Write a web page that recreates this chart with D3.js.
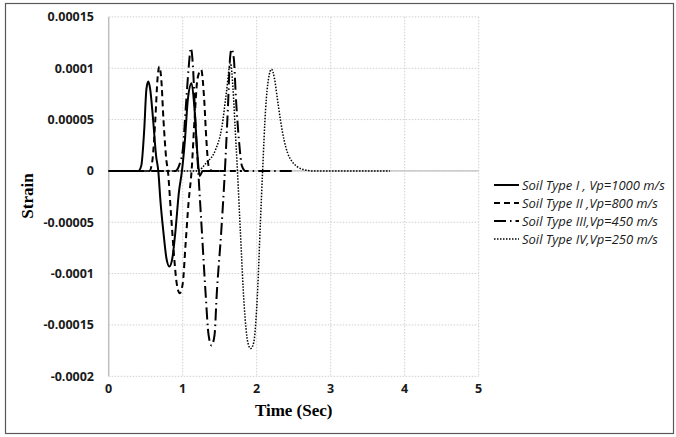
<!DOCTYPE html>
<html>
<head>
<meta charset="utf-8">
<script src="https://cdn.jsdelivr.net/npm/d3@7"></script>
<style>
  body { margin: 0; background: #fff; }
  svg { display: block; }
</style>
</head>
<body>
<svg id="chart" width="676" height="437"></svg>
<script>
// values: [time (s), strain]
const soil1 = [[0,0],[0.40,0],[0.44,0.000005],[0.48,0.00004],[0.51,0.00008],[0.535,0.000087],[0.56,0.00008],
  [0.60,0.00005],[0.64,0.000015],[0.67,0],[0.70,-0.00003],[0.74,-0.00006],[0.78,-0.000085],[0.82,-0.000093],
  [0.86,-0.000085],[0.90,-0.00006],[0.95,-0.00002],[0.99,0],[1.03,0.00003],[1.07,0.00007],[1.12,0.0000855],
  [1.16,0.00006],[1.20,0.000015],[1.23,-0.000005],[1.27,0],[1.5,0]];
const soil2 = [[0,0],[0.55,0],[0.59,0.00001],[0.63,0.00005],[0.66,0.00009],[0.684,0.0001016],[0.71,0.00009],
  [0.74,0.00005],[0.78,0.00001],[0.80,0],[0.84,-0.00004],[0.88,-0.00008],[0.92,-0.00011],[0.96,-0.000119],
  [1.00,-0.00011],[1.04,-0.00007],[1.08,-0.00003],[1.12,0],[1.16,0.00005],[1.20,0.00009],[1.25,0.0000984],
  [1.29,0.00007],[1.32,0.00003],[1.35,0.000005],[1.40,0],[1.8,0]];
const soil3 = [[0,0],[0.90,0],[0.95,0.000005],[1.00,0.00002],[1.04,0.00006],[1.08,0.0001],[1.11,0.0001196],
  [1.14,0.0001],[1.17,0.00005],[1.21,0],[1.26,-0.00006],[1.31,-0.00012],[1.35,-0.00016],[1.39,-0.00017],
  [1.43,-0.00016],[1.46,-0.00012],[1.52,-0.00006],[1.57,0],[1.61,0.00006],[1.64,0.00011],[1.66,0.0001186],
  [1.69,0.00011],[1.72,0.00007],[1.76,0.00003],[1.80,0.000005],[1.85,0],[2.5,0]];
const soil4 = [[0,0],[1.20,0],[1.32,0.000008],[1.44,0.00002],[1.53,0.000043],[1.59,0.000076],[1.645,0.000105],
  [1.68,0.00008],[1.71,0.00004],[1.74,0],[1.78,-0.00006],[1.83,-0.00013],[1.88,-0.000167],[1.92,-0.000173],
  [1.96,-0.000167],[2.01,-0.00012],[2.05,-0.00005],[2.08,0],[2.12,0.00006],[2.16,0.00009],[2.20,0.000099],
  [2.24,0.00009],[2.28,0.00007],[2.32,0.00005],[2.37,0.00003],[2.42,0.000017],[2.48,0.000009],[2.55,0.000004],
  [2.65,0.000001],[2.75,0],[3.8,0]];

const seriesNames = ["Soil Type I , Vp=1000 m/s", "Soil Type II ,Vp=800 m/s",
  "Soil Type III,Vp=450 m/s", "Soil Type IV,Vp=250 m/s"];
const xTicks = [0, 1, 2, 3, 4, 5];
const yTicks = [0.00015, 0.0001, 0.00005, 0, -0.00005, -0.0001, -0.00015, -0.0002];
const yTickLabels = ["0.00015", "0.0001", "0.00005", "0", "-0.00005", "-0.0001", "-0.00015", "-0.0002"];

const series = [
  {name: seriesNames[0], data: soil1, dash: null, width: 2},
  {name: seriesNames[1], data: soil2, dash: "6,4", width: 2},
  {name: seriesNames[2], data: soil3, dash: "12,4,1.5,4", width: 2},
  {name: seriesNames[3], data: soil4, dash: "1.5,1.5", width: 1.5}
];

const svg = d3.select("#chart");

// outer frame
svg.append("rect")
  .attr("x", 5.5).attr("y", 3.5).attr("width", 668).attr("height", 430)
  .attr("fill", "none").attr("stroke", "#595959").attr("stroke-width", 1.2);

const x = d3.scaleLinear().domain([0, 5]).range([108.7, 478.7]);
const y = d3.scaleLinear().domain([-0.0002, 0.00015]).range([376.3, 16.9]);

// gridlines
const grid = svg.append("g");
grid.selectAll(".gy").data(yTicks).enter().append("line")
  .attr("x1", x(0)).attr("x2", x(5))
  .attr("y1", d => y(d)).attr("y2", d => y(d))
  .attr("stroke", "#d0d0d0").attr("stroke-dasharray", "1.5,1.5");
grid.selectAll(".gx").data(xTicks.slice(1)).enter().append("line")
  .attr("x1", d => x(d)).attr("x2", d => x(d))
  .attr("y1", y(0.00015)).attr("y2", y(-0.0002))
  .attr("stroke", "#d0d0d0").attr("stroke-dasharray", "1.5,1.5");

// axis lines
svg.append("line").attr("x1", x(0)).attr("x2", x(0))
  .attr("y1", y(0.00015)).attr("y2", y(-0.0002))
  .attr("stroke", "#bfbfbf").attr("stroke-width", 1.5);
svg.append("line").attr("x1", x(0)).attr("x2", x(5))
  .attr("y1", y(0)).attr("y2", y(0))
  .attr("stroke", "#bfbfbf").attr("stroke-width", 1.2);

// tick labels
svg.append("g").selectAll("text").data(yTicks).enter().append("text")
  .attr("x", 94).attr("y", d => y(d) + 4.5)
  .attr("text-anchor", "end")
  .style("font-family", "'Open Sans', sans-serif").style("font-weight", "bold").style("font-size", "12.5px")
  .attr("fill", "#1a1a1a")
  .text((d, i) => yTickLabels[i]);
svg.append("g").selectAll("text").data(xTicks).enter().append("text")
  .attr("x", d => x(d)).attr("y", 393)
  .attr("text-anchor", "middle")
  .style("font-family", "'Open Sans', sans-serif").style("font-weight", "bold").style("font-size", "12.5px")
  .attr("fill", "#1a1a1a")
  .text(d => d);

// axis titles
svg.append("text")
  .attr("transform", "translate(33,196) rotate(-90)")
  .attr("text-anchor", "middle")
  .style("font-family", "'Liberation Serif', serif").style("font-weight", "bold").style("font-size", "17px")
  .text("Strain");
svg.append("text")
  .attr("x", (x(0) + x(5)) / 2).attr("y", 416)
  .attr("text-anchor", "middle")
  .style("font-family", "'Liberation Serif', serif").style("font-weight", "bold").style("font-size", "17px")
  .text("Time (Sec)");

// curves
const line = d3.line()
  .x(d => x(d[0]))
  .y(d => y(d[1]))
  .curve(d3.curveMonotoneX);

svg.append("g").selectAll("path").data(series).enter().append("path")
  .attr("d", d => line(d.data))
  .attr("fill", "none")
  .attr("stroke", "#000")
  .attr("stroke-width", d => d.width)
  .attr("stroke-dasharray", d => d.dash);

// legend
const legend = svg.append("g").selectAll("g").data(series).enter().append("g")
  .attr("transform", (d, i) => "translate(494," + [185, 203, 221, 239][i] + ")");
legend.append("line")
  .attr("x1", 0).attr("x2", 25).attr("y1", 0).attr("y2", 0)
  .attr("stroke", "#000")
  .attr("stroke-width", d => d.width)
  .attr("stroke-dasharray", d => d.dash);
legend.append("text")
  .attr("x", 28).attr("y", 4.5)
  .style("font-family", "'Open Sans', sans-serif").style("font-style", "italic").style("font-size", "13px")
  .attr("fill", "#1a1a1a")
  .text(d => d.name);
</script>
</body>
</html>
